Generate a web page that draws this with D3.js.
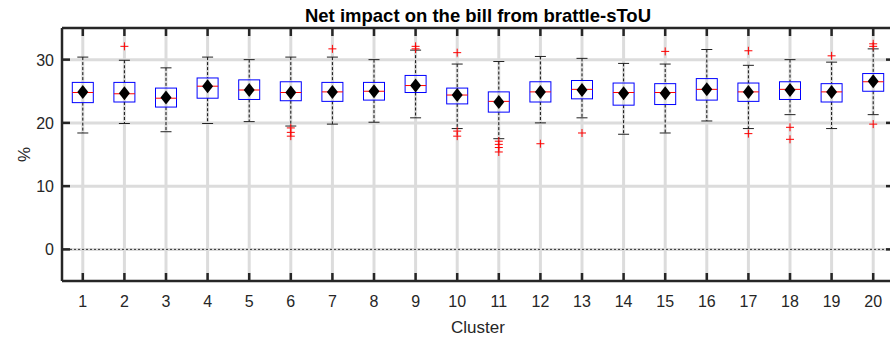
<!DOCTYPE html>
<html lang="en">
<head>
    <meta charset="UTF-8">
    <title>Net impact on the bill from brattle-sToU</title>
    <script src="https://d3js.org/d3.v7.min.js"></script>
    <style>
        body { margin: 0; overflow: hidden; background-color: white; }
        text { font-family: "Liberation Sans", Arial, sans-serif; fill: #262626; }
    </style>
</head>
<body>
    <svg id="chart"></svg>

    <script>
        const width = 890;
        const height = 339;

        // Box statistics per cluster
        const clusters = d3.range(1, 21);
        const q1 =       [23.2, 23.3, 22.5, 23.9, 23.7, 23.5, 23.4, 23.6, 24.8, 23.0, 21.7, 23.3, 23.8, 22.8, 22.9, 23.6, 23.4, 23.7, 23.3, 25.0];
        const median =   [24.8, 24.6, 23.9, 25.8, 25.2, 24.8, 24.9, 25.0, 25.9, 24.4, 23.4, 24.9, 25.3, 24.8, 24.8, 25.3, 24.9, 25.3, 24.9, 26.5];
        const q3 =       [26.4, 26.4, 25.5, 27.1, 26.8, 26.5, 26.4, 26.4, 27.5, 25.5, 24.9, 26.5, 26.7, 26.3, 26.2, 27.0, 26.3, 26.5, 26.2, 27.8];
        const whiskLo =  [18.4, 19.9, 18.6, 19.9, 20.2, 19.5, 19.8, 20.1, 20.8, 19.1, 17.5, 20.0, 20.8, 18.2, 18.4, 20.3, 19.1, 21.3, 19.1, 21.3];
        const whiskHi =  [30.4, 29.9, 28.7, 30.4, 30.0, 30.4, 30.4, 30.0, 31.5, 29.3, 29.7, 30.5, 30.2, 29.4, 29.3, 31.6, 29.1, 30.0, 29.6, 31.7];
        const means =    [24.9, 24.7, 24.0, 25.8, 25.2, 24.8, 24.9, 25.0, 25.9, 24.4, 23.3, 24.9, 25.2, 24.7, 24.7, 25.3, 24.9, 25.2, 24.9, 26.6];
        const outliers = [
            [], [32.1], [], [], [], [19.2, 18.5, 17.9], [31.7], [], [32.1, 31.7], [31.1, 18.7, 17.9],
            [17.1, 16.6, 16.1, 15.4], [16.7], [18.4], [], [31.3], [], [31.4, 18.3], [19.3, 17.4], [30.6], [32.5, 32.1, 19.8]
        ];
        const yTicks = [0, 10, 20, 30];

        const margin = { top: 28, left: 62, bottom: 58 };
        const plotRight = 894;

        const svg = d3.select("#chart")
            .attr("width", width)
            .attr("height", height);

        const x = d3.scaleLinear().domain([0.5, 20.5]).range([margin.left, plotRight]);
        const y = d3.scaleLinear().domain([-5, 35]).range([height - margin.bottom, margin.top]);
        const yTop = y(35), yBot = y(-5);

        // Grid
        const grid = svg.append("g");
        grid.selectAll(".vg").data(clusters).enter().append("line")
            .attr("x1", d => x(d)).attr("x2", d => x(d))
            .attr("y1", yTop).attr("y2", yBot)
            .attr("stroke", "#dcdcdc").attr("stroke-width", 3);
        grid.selectAll(".hg").data(yTicks).enter().append("line")
            .attr("x1", margin.left).attr("x2", plotRight)
            .attr("y1", d => y(d)).attr("y2", d => y(d))
            .attr("stroke", "#dcdcdc").attr("stroke-width", 3);

        // Zero line
        svg.append("line")
            .attr("x1", margin.left).attr("x2", plotRight)
            .attr("y1", y(0)).attr("y2", y(0))
            .attr("stroke", "#333").attr("stroke-width", 1)
            .attr("stroke-dasharray", "2,2");

        const boxW = 21, capW = 11;
        const rows = clusters.map((c, i) => ({
            c, q1: q1[i], med: median[i], q3: q3[i], lo: whiskLo[i], hi: whiskHi[i], mean: means[i], out: outliers[i]
        }));

        const g = svg.append("g").selectAll("g").data(rows).enter().append("g");

        // whiskers
        g.append("line")
            .attr("x1", d => x(d.c)).attr("x2", d => x(d.c))
            .attr("y1", d => y(d.hi)).attr("y2", d => y(d.q3))
            .attr("stroke", "#111").attr("stroke-dasharray", "3,2");
        g.append("line")
            .attr("x1", d => x(d.c)).attr("x2", d => x(d.c))
            .attr("y1", d => y(d.q1)).attr("y2", d => y(d.lo))
            .attr("stroke", "#111").attr("stroke-dasharray", "3,2");
        g.append("line")
            .attr("x1", d => x(d.c) - capW / 2).attr("x2", d => x(d.c) + capW / 2)
            .attr("y1", d => y(d.hi)).attr("y2", d => y(d.hi))
            .attr("stroke", "#222");
        g.append("line")
            .attr("x1", d => x(d.c) - capW / 2).attr("x2", d => x(d.c) + capW / 2)
            .attr("y1", d => y(d.lo)).attr("y2", d => y(d.lo))
            .attr("stroke", "#222");

        // boxes
        g.append("rect")
            .attr("x", d => x(d.c) - boxW / 2)
            .attr("y", d => y(d.q3))
            .attr("width", boxW)
            .attr("height", d => y(d.q1) - y(d.q3))
            .attr("fill", "none")
            .attr("stroke", "#0000ff").attr("stroke-width", 1);

        // medians
        g.append("line")
            .attr("x1", d => x(d.c) - boxW / 2).attr("x2", d => x(d.c) + boxW / 2)
            .attr("y1", d => y(d.med)).attr("y2", d => y(d.med))
            .attr("stroke", "#ff0000").attr("stroke-width", 1);

        // outliers
        g.selectAll(".out").data(d => d.out.map(v => ({ c: d.c, v }))).enter().append("path")
            .attr("d", d => {
                const cx = x(d.c), cy = y(d.v);
                return `M${cx - 4},${cy}H${cx + 4}M${cx},${cy - 4}V${cy + 4}`;
            })
            .attr("stroke", "#ff0000").attr("stroke-width", 1);

        // mean diamonds
        g.append("path")
            .attr("d", d => {
                const cx = x(d.c), cy = y(d.mean);
                return `M${cx},${cy - 7}L${cx + 5.5},${cy}L${cx},${cy + 7}L${cx - 5.5},${cy}Z`;
            })
            .attr("fill", "black");

        // Axes frame
        const frame = svg.append("g").attr("stroke", "#262626").attr("stroke-width", 2.5);
        frame.append("line").attr("x1", margin.left).attr("x2", plotRight).attr("y1", yTop).attr("y2", yTop);
        frame.append("line").attr("x1", margin.left).attr("x2", plotRight).attr("y1", yBot).attr("y2", yBot);
        frame.append("line").attr("x1", margin.left).attr("x2", margin.left).attr("y1", yTop).attr("y2", yBot);
        frame.append("line").attr("x1", plotRight).attr("x2", plotRight).attr("y1", yTop).attr("y2", yBot);

        // Ticks (inward)
        const tk = 8;
        frame.selectAll(".xb").data(clusters).enter().append("line")
            .attr("x1", d => x(d)).attr("x2", d => x(d))
            .attr("y1", yBot).attr("y2", yBot - tk);
        frame.selectAll(".xt").data(clusters).enter().append("line")
            .attr("x1", d => x(d)).attr("x2", d => x(d))
            .attr("y1", yTop).attr("y2", yTop + tk);
        frame.selectAll(".yl").data(yTicks).enter().append("line")
            .attr("x1", margin.left).attr("x2", margin.left + tk)
            .attr("y1", d => y(d)).attr("y2", d => y(d));
        frame.selectAll(".yr").data(yTicks).enter().append("line")
            .attr("x1", plotRight).attr("x2", plotRight - tk)
            .attr("y1", d => y(d)).attr("y2", d => y(d));

        // Tick labels
        svg.append("g").selectAll("text").data(clusters).enter().append("text")
            .attr("x", d => x(d)).attr("y", yBot + 26)
            .attr("text-anchor", "middle")
            .style("font-size", "16px")
            .text(d => d);
        svg.append("g").selectAll("text").data(yTicks).enter().append("text")
            .attr("x", margin.left - 8).attr("y", d => y(d) + 6)
            .attr("text-anchor", "end")
            .style("font-size", "16px")
            .text(d => d);

        // Labels
        svg.append("text")
            .attr("x", (margin.left + plotRight) / 2).attr("y", 22)
            .attr("text-anchor", "middle")
            .style("font-size", "18.5px").style("font-weight", "bold")
            .style("fill", "black")
            .text("Net impact on the bill from brattle-sToU");
        svg.append("text")
            .attr("x", (margin.left + plotRight) / 2).attr("y", 333)
            .attr("text-anchor", "middle")
            .style("font-size", "17px")
            .text("Cluster");
        svg.append("text")
            .attr("transform", `translate(30, ${(yTop + yBot) / 2}) rotate(-90)`)
            .attr("text-anchor", "middle")
            .style("font-size", "17px")
            .text("%");
    </script>
</body>
</html>
